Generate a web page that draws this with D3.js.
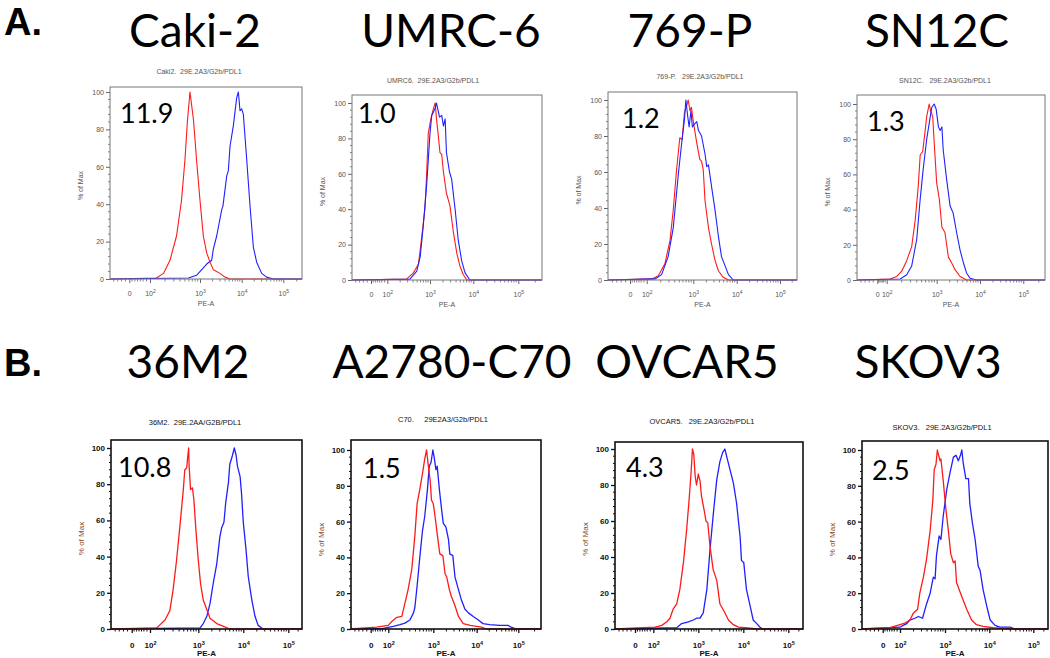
<!DOCTYPE html>
<html><head><meta charset="utf-8">
<script src="https://cdn.jsdelivr.net/npm/d3@7"></script>
<style>body{margin:0;background:#fff}svg{display:block}</style>
</head><body>
<svg id="c" width="1050" height="658"></svg>
<script>
// ---------------- DATA ----------------
const panelTitles = ["Caki-2","UMRC-6","769-P","SN12C","36M2","A2780-C70","OVCAR5","SKOV3"];
const flowLabels = ["Caki2.  29E.2A3/G2b/PDL1","UMRC6.  29E.2A3/G2b/PDL1","769-P.   29E.2A3/G2b/PDL1","SN12C.   29E.2A3/G2b/PDL1",
  "36M2.  29E.2AA/G2B/PDL1","C70.     29E2A3/G2b/PDL1","OVCAR5.   29E.2A3/G2b/PDL1","SKOV3.   29E.2A3/G2b/PDL1"];
const mfiRatios = ["11.9","1.0","1.2","1.3","10.8","1.5","4.3","2.5"];
const sectionLabels = ["A.","B."];
const yTickValues = [0,20,40,60,80,100];
const xTickValues = [1.4,2,3,4,5];          // "0", 10^2 .. 10^5 on the biexponential axis (log10 units)
const xTickBase = ["0","10","10","10","10"];
const xTickExp = ["","2","3","4","5"];
const xAxisTitle = "PE-A";
const yAxisTitle = "% of Max";

// isotype (red) and anti-PD-L1 (blue): [log10(PE-A), % of max]
const caki2Red = [[2.13,0.5],[2.27,3],[2.4,10],[2.53,23],[2.63,42],[2.7,64],[2.75,85],[2.8,100],[2.87,85],[2.93,64],[3.0,42],[3.08,23],[3.16,14],[3.24,9],[3.32,5],[3.48,3],[3.6,1],[3.72,0]];
const caki2Blue = [[2.77,0.5],[2.93,2],[3.08,6],[3.16,8],[3.28,10],[3.32,16],[3.4,23],[3.52,37],[3.55,39],[3.64,55],[3.68,58],[3.72,71],[3.8,82],[3.88,97],[3.92,100],[3.96,90],[4.0,91],[4.04,88],[4.12,64],[4.2,39],[4.28,17],[4.36,9],[4.48,3],[4.6,1],[4.76,0]];
const umrc6Red = [[2.45,0.5],[2.61,4],[2.73,9],[2.8,23],[2.88,40],[2.92,59],[2.96,83],[3.02,91],[3.08,97],[3.12,100],[3.15,91],[3.19,82],[3.23,72],[3.27,71],[3.31,61],[3.38,49],[3.46,42],[3.54,27],[3.62,15],[3.69,8],[3.77,3],[3.85,0]];
const umrc6Blue = [[2.53,0.5],[2.69,5],[2.77,13],[2.84,30],[2.92,53],[3.0,83],[3.04,93],[3.12,97],[3.15,100],[3.22,92],[3.27,93],[3.31,87],[3.35,91],[3.38,72],[3.45,61],[3.5,57],[3.58,40],[3.65,23],[3.73,11],[3.81,4],[3.92,0]];
const p769Red = [[2.11,0.6],[2.25,2.4],[2.39,9],[2.5,22],[2.57,39],[2.64,61],[2.71,79],[2.76,78],[2.81,93],[2.86,97],[2.89,100],[2.93,94],[2.96,96],[3.0,88],[3.04,82],[3.08,76],[3.15,67],[3.19,66],[3.23,61],[3.27,44],[3.35,29],[3.42,20],[3.5,11],[3.58,5],[3.69,1.5],[3.81,0]];
const p769Blue = [[2.18,0.6],[2.32,3],[2.46,13],[2.57,29],[2.68,59],[2.75,76],[2.81,89],[2.84,100],[2.88,91],[2.91,85],[2.95,94],[2.98,85],[3.04,87],[3.08,88],[3.12,83],[3.19,80],[3.27,70],[3.31,63],[3.35,64],[3.42,52],[3.5,39],[3.58,24],[3.65,13],[3.73,8],[3.81,3],[3.92,0]];
const sn12cRed = [[2.07,0.6],[2.2,2],[2.3,5],[2.4,11],[2.5,19],[2.57,34],[2.63,53],[2.67,71],[2.72,73],[2.77,85],[2.8,93],[2.85,100],[2.88,96],[2.92,93],[2.95,78],[3.0,55],[3.06,46],[3.12,30],[3.19,27],[3.27,13],[3.35,9.5],[3.42,6],[3.54,2],[3.69,0]];
const sn12cBlue = [[2.27,0.6],[2.4,3],[2.5,8],[2.6,23],[2.67,46],[2.73,63],[2.8,80],[2.85,89],[2.9,98],[2.95,100],[2.99,97],[3.04,87],[3.08,85],[3.12,87],[3.15,74],[3.23,57],[3.31,42],[3.38,38],[3.46,27],[3.54,17],[3.62,9.5],[3.69,4],[3.77,1],[3.92,0]];
const m36Red = [[2.14,0.6],[2.21,2.4],[2.31,5],[2.41,10],[2.48,22],[2.55,38],[2.62,57],[2.69,77],[2.72,88],[2.76,89],[2.78,95],[2.8,100],[2.81,90],[2.84,77],[2.88,78],[2.91,71],[2.95,55],[3.0,38],[3.05,25],[3.11,16],[3.17,12],[3.26,6],[3.41,3],[3.56,1.5],[3.7,0]];
const m36Blue = [[3.04,0.6],[3.11,3],[3.19,7],[3.26,14],[3.33,25],[3.41,36],[3.48,51],[3.52,56],[3.57,59],[3.61,70],[3.67,81],[3.7,91],[3.76,96],[3.8,100],[3.84,96],[3.87,90],[3.93,84],[3.96,75],[4.0,59],[4.06,44],[4.11,29],[4.19,16],[4.26,7],[4.33,2],[4.44,0]];
const c70Red = [[1.6,1],[2.0,2],[2.07,4],[2.19,6.5],[2.3,7],[2.37,14.5],[2.44,22],[2.52,33],[2.59,52],[2.64,70],[2.7,78],[2.76,87],[2.81,95],[2.85,100],[2.89,91],[2.93,83],[2.96,72],[3.0,70],[3.04,63],[3.09,53],[3.15,42],[3.22,41],[3.27,31],[3.31,29],[3.37,22],[3.42,18],[3.5,13],[3.58,7],[3.69,3],[3.85,2],[4.0,1.5],[4.12,1],[4.23,0]];
const c70Blue = [[1.83,0.4],[2.11,1.5],[2.26,2.4],[2.37,3.3],[2.48,5],[2.56,9],[2.59,12],[2.64,24],[2.7,40],[2.76,55],[2.81,63],[2.87,78],[2.91,91],[2.95,93],[2.99,100],[3.02,96],[3.06,89],[3.09,91],[3.14,78],[3.19,67],[3.23,59],[3.29,57],[3.35,50],[3.38,42],[3.45,41],[3.5,29],[3.58,22],[3.65,16],[3.73,11],[3.81,9],[3.92,7],[4.04,5],[4.15,3],[4.31,2.4],[4.55,2],[4.75,2],[4.83,1],[4.95,0]];
const ovcar5Red = [[2.04,1],[2.19,2],[2.3,4],[2.37,6],[2.44,11],[2.52,14],[2.59,22],[2.67,37],[2.74,55],[2.79,70],[2.84,87],[2.87,100],[2.9,97],[2.93,85],[2.96,80],[3.0,86],[3.04,82],[3.07,74],[3.13,66],[3.17,60],[3.21,59],[3.26,46],[3.33,33],[3.41,27],[3.48,14],[3.59,9],[3.67,5],[3.78,2.4],[3.89,1],[4.04,0.7],[4.33,0]];
const ovcar5Blue = [[2.52,0.7],[2.63,3],[2.78,4],[2.89,5],[2.96,6],[3.04,6],[3.11,9],[3.19,22],[3.26,44],[3.33,63],[3.41,83],[3.48,93],[3.54,98],[3.59,100],[3.65,94],[3.7,89],[3.78,81],[3.85,70],[3.93,51],[3.96,38],[4.01,37],[4.07,22],[4.15,13],[4.22,5],[4.3,3],[4.37,1],[4.44,0]];
const skov3Red = [[1.65,0.7],[2.0,2.4],[2.11,3.3],[2.22,5],[2.3,9],[2.39,11],[2.44,20],[2.52,29],[2.59,39],[2.67,55],[2.73,72],[2.76,89],[2.8,92],[2.83,100],[2.85,98],[2.89,94],[2.91,95],[2.96,83],[3.02,67],[3.08,54],[3.13,42],[3.19,37],[3.23,38],[3.26,26],[3.38,18],[3.49,11],[3.6,5],[3.71,2.4],[3.86,1.5],[4.09,0.7],[4.54,0]];
const skov3Blue = [[2.0,1],[2.07,2],[2.15,3],[2.22,5],[2.33,6],[2.41,7],[2.5,6],[2.59,14],[2.67,20],[2.74,29],[2.78,28],[2.81,41],[2.87,52],[2.91,50],[2.96,63],[3.04,78],[3.11,87],[3.19,96],[3.25,97],[3.3,94],[3.35,97],[3.38,100],[3.41,93],[3.47,84],[3.53,84],[3.56,70],[3.62,59],[3.68,50],[3.75,35],[3.79,33],[3.86,22],[3.94,13],[4.02,5],[4.13,2],[4.24,1],[4.47,1],[4.59,0]];

const redSeries = [caki2Red, umrc6Red, p769Red, sn12cRed, m36Red, c70Red, ovcar5Red, skov3Red];
const blueSeries = [caki2Blue, umrc6Blue, p769Blue, sn12cBlue, m36Blue, c70Blue, ovcar5Blue, skov3Blue];

// ---------------- LAYOUT (pixels) ----------------
const layout = [
 {L:110,R:302,T:87,B:279,y100:92,  xt:[19.3,40,90,131.7,173.3],  subX:199,subY:74, numX:120,numY:123, tX:195,tY:47},
 {L:352,R:542,T:95,B:280,y100:103, xt:[19,35.3,78,121.3,166.3],  subX:433,subY:83, numX:358,numY:123, tX:451,tY:47},
 {L:608,R:797,T:92,B:280,y100:100, xt:[22,38.7,85.3,128.7,172],  subX:700,subY:79, numX:622,numY:128, tX:690,tY:47},
 {L:857,R:1045,T:95,B:280,y100:104,xt:[20.3,29.7,79.7,123,166.3],subX:945,subY:83, numX:867,numY:131, tX:937,tY:47},
 {L:111,R:302,T:440,B:629,y100:448,xt:[20.7,39,87.3,132.3,177.3],subX:195,subY:425,numX:118,numY:477, tX:188,tY:378},
 {L:351,R:541,T:440,B:629,y100:450,xt:[19.7,37.3,82.3,125.7,167.3],subX:443,subY:422,numX:363,numY:478, tX:452,tY:378},
 {L:615,R:803,T:442,B:629,y100:449,xt:[20,38.3,83.3,128.3,173.3],subX:702,subY:424,numX:626,numY:477, tX:687,tY:378},
 {L:862,R:1048,T:441,B:629,y100:450,xt:[20.7,38,83,127.3,171.3],subX:942,subY:430,numX:872,numY:480, tX:928,tY:378}
];

const svg = d3.select("#c");
svg.append("rect").attr("width",1050).attr("height",658).attr("fill","#fff");
const bigFont = "Lato, 'Open Sans', sans-serif";
const smallFont = "'Liberation Sans', Arial, sans-serif";

svg.append("text").attr("x",4).attr("y",35).attr("font-family",smallFont).attr("font-weight",700)
   .attr("font-size",38).text(sectionLabels[0]);
svg.append("text").attr("x",4).attr("y",376).attr("font-family",smallFont).attr("font-weight",700)
   .attr("font-size",38).text(sectionLabels[1]);

layout.forEach((p,i)=>{
  const bottomRow = i>=4;
  const W = p.R - p.L;
  const axisCol = bottomRow ? "#111" : "#666";
  const labCol = bottomRow ? "#111" : "#555";
  const g = svg.append("g");
  const x = d3.scaleLinear()
     .domain([1.0, ...xTickValues, 5.42])
     .range([p.L, ...p.xt.map(o=>p.L+o), p.R]).clamp(true);
  const y = d3.scaleLinear().domain([0,100]).range([p.B, p.y100]);

  // big title
  svg.append("text").attr("x",p.tX).attr("y",p.tY).attr("text-anchor","middle")
     .attr("font-family",bigFont).attr("font-size",46).attr("fill","#000").text(panelTitles[i]);
  // flowjo subtitle
  g.append("text").attr("x",p.subX).attr("y",p.subY).attr("text-anchor","middle")
     .attr("font-family",smallFont).attr("font-size",bottomRow?7.5:7).attr("fill",labCol)
     .attr("xml:space","preserve").text(flowLabels[i]);

  // y axis
  const yAxis = d3.axisLeft(y).tickValues(yTickValues).tickSize(4).tickPadding(2);
  const ya = g.append("g").attr("transform",`translate(${p.L},0)`).call(yAxis);
  ya.select(".domain").remove();
  ya.selectAll("line").attr("stroke",axisCol).attr("stroke-width",bottomRow?1.3:1);
  ya.selectAll("text").attr("font-family",smallFont).attr("font-size",bottomRow?8:7)
     .attr("fill",labCol).attr("font-weight",bottomRow?"bold":"normal");
  const yMinor = d3.range(0,101,4).filter(v=>v%20!==0);
  g.append("g").selectAll("line").data(yMinor).join("line")
     .attr("x1",p.L-2).attr("x2",p.L).attr("y1",d=>y(d)).attr("y2",d=>y(d))
     .attr("stroke",axisCol).attr("stroke-width",bottomRow?1:0.8);

  // x axis
  const xAxis = d3.axisBottom(x).tickValues(xTickValues).tickSize(4).tickFormat("");
  const xa = g.append("g").attr("transform",`translate(0,${p.B})`).call(xAxis);
  xa.select(".domain").remove();
  xa.selectAll("line").attr("stroke",axisCol).attr("stroke-width",bottomRow?1.3:1);
  xa.selectAll(".tick").each(function(d,k){
    const t = d3.select(this).append("text").attr("y",bottomRow?19:17).attr("text-anchor","middle")
      .attr("font-family",smallFont).attr("font-size",bottomRow?8:7).attr("fill",labCol)
      .attr("font-weight",bottomRow?"bold":"normal");
    t.append("tspan").text(xTickBase[k]);
    if (xTickExp[k]) t.append("tspan").attr("dy",-3).attr("font-size",bottomRow?5.5:5).text(xTickExp[k]);
  });
  const xMinor = [];
  [1.08,1.16,1.24,1.32,1.48,1.56,1.64,1.72,1.8,1.9].forEach(v=>xMinor.push(v));
  [2,3,4].forEach(dd=>{ for(let k=2;k<=9;k++) xMinor.push(dd+Math.log10(k)); });
  xMinor.push(5+Math.log10(2));
  g.append("g").selectAll("line").data(xMinor).join("line")
     .attr("x1",d=>x(d)).attr("x2",d=>x(d)).attr("y1",p.B).attr("y2",p.B+2.5)
     .attr("stroke",axisCol).attr("stroke-width",bottomRow?1:0.8);

  g.append("text").attr("x",(p.L+p.R)/2).attr("y",p.B+27).attr("text-anchor","middle")
     .attr("font-family",smallFont).attr("font-size",bottomRow?8:7).attr("fill",labCol)
     .attr("font-weight",bottomRow?"bold":"normal").text(xAxisTitle);
  g.append("text").attr("transform",`translate(${p.L-27},${(p.B+p.y100)/2}) rotate(-90)`)
     .attr("text-anchor","middle").attr("font-family",smallFont).attr("font-size",bottomRow?8:7)
     .attr("fill",bottomRow?"#8b4a1a":"#555").text(yAxisTitle);

  // curves
  const line = d3.line().x(d=>x(d[0])).y(d=>y(d[1]));
  const withEnds = s => [[1.0,0], ...s, [5.42,0]];
  const red = withEnds(redSeries[i]), blue = withEnds(blueSeries[i]);
  const order = bottomRow ? [[blue,"#2020ff"],[red,"#ff1a1a"]] : [[red,"#ff1a1a"],[blue,"#2020ff"]];
  order.forEach(([s,c])=>{
    g.append("path").attr("d",line(s)).attr("fill","none").attr("stroke",c)
     .attr("stroke-width",bottomRow?1.3:1.1).attr("stroke-linejoin","round");
  });

  // frame
  g.append("rect").attr("x",p.L).attr("y",p.T).attr("width",W).attr("height",p.B-p.T)
     .attr("fill","none").attr("stroke",bottomRow?"#111":"#777").attr("stroke-width",bottomRow?1.6:1);

  // ratio number
  svg.append("text").attr("x",p.numX).attr("y",p.numY).attr("font-family",bigFont)
     .attr("font-size",27).attr("fill","#000").text(mfiRatios[i]);
});
</script>
</body></html>
